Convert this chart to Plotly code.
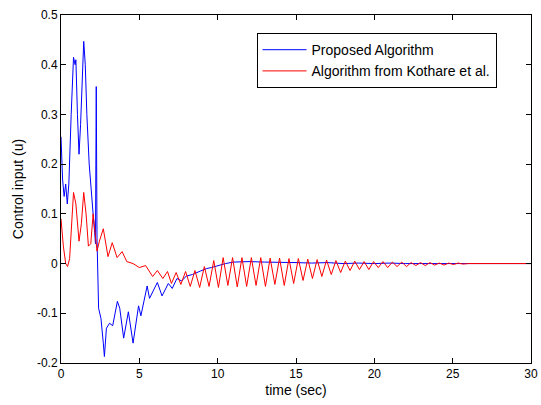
import plotly.graph_objects as go

# Proposed Algorithm (blue)
blue_t = [0.0, 0.1, 0.2, 0.3, 0.4, 0.5, 0.65, 0.8, 0.9, 0.95, 1.05, 1.15, 1.25, 1.35, 1.45,
          1.55, 1.65, 1.8, 1.95, 2.05, 2.15, 2.2, 2.25, 2.3, 2.4, 2.55, 2.7, 2.77, 2.9, 3.1,
          3.3, 3.6, 3.75, 4.0, 4.3, 4.6, 4.95, 5.1, 5.5, 5.65, 6.15, 6.45, 6.85, 7.1, 7.4,
          7.7, 8.0, 8.4, 8.9, 9.3, 9.6, 10.0, 10.5, 11.0, 12.0, 13.0, 14.0, 15.0, 16.0, 17.0,
          18.0, 19.0, 20.0, 21.0, 22.0, 23.0, 24.0, 25.0, 26.0, 27.0, 30.0]
blue_u = [0.255, 0.17, 0.135, 0.16, 0.12, 0.16, 0.30, 0.415, 0.40, 0.41, 0.30, 0.22, 0.28, 0.38, 0.447,
          0.40, 0.30, 0.20, 0.13, 0.10, 0.062, 0.04, 0.356, 0.05, -0.09, -0.11, -0.16, -0.187, -0.13, -0.12,
          -0.125, -0.076, -0.09, -0.15, -0.097, -0.16, -0.085, -0.105, -0.045, -0.07, -0.038, -0.065, -0.04, -0.05, -0.03,
          -0.035, -0.025, -0.022, -0.015, -0.01, -0.008, -0.004, 0.0, 0.003, 0.004, 0.003, 0.003, 0.002, 0.001, 0.002,
          0.0, 0.001, 0.0, 0.001, 0.0, 0.0, 0.001, 0.0, 0.0, 0.0, 0.0]

# Algorithm from Kothare et al. (red)
red_t = [0.0, 0.15, 0.3, 0.42, 0.55, 0.8, 0.95, 1.15, 1.3, 1.45, 1.6, 1.75, 1.9, 2.05, 2.2,
         2.3, 2.45, 2.7, 3.0, 3.27, 3.58, 3.9, 4.2, 4.6, 5.0, 5.4, 5.85, 6.15, 6.5, 6.8,
         7.05, 7.35, 7.65, 7.95, 8.25, 8.55, 8.85, 9.15, 9.45, 9.75, 10.05, 10.35, 10.65, 10.95, 11.25,
         11.55, 11.85, 12.15, 12.45, 12.75, 13.05, 13.35, 13.65, 13.95, 14.25, 14.55, 14.85, 15.15, 15.45, 15.75,
         16.05, 16.35, 16.65, 16.95, 17.25, 17.55, 17.85, 18.15, 18.45, 18.75, 19.05, 19.35, 19.65, 19.95, 20.25,
         20.55, 20.85, 21.15, 21.45, 21.75, 22.05, 22.35, 22.65, 22.95, 23.25, 23.55, 23.85, 24.15, 24.45, 24.75,
         25.05, 25.35, 25.65, 26.0, 30.0]
red_u = [0.09, 0.035, 0.0, -0.006, 0.01, 0.143, 0.12, 0.045, 0.08, 0.143, 0.10, 0.035, 0.04, 0.10, 0.055,
         0.025, 0.045, 0.07, 0.014, 0.042, 0.012, 0.024, 0.004, 0.0, -0.008, -0.004, -0.026, -0.014, -0.03, -0.016,
         -0.04, -0.018, -0.042, -0.016, -0.046, -0.014, -0.048, -0.006, -0.046, 0.006, -0.048, 0.012, -0.044, 0.012, -0.047,
         0.012, -0.046, 0.012, -0.044, 0.012, -0.046, 0.011, -0.042, 0.011, -0.044, 0.010, -0.040, 0.010, -0.034, 0.009,
         -0.030, 0.008, -0.026, 0.007, -0.022, 0.006, -0.018, 0.005, -0.014, 0.005, -0.012, 0.004, -0.012, 0.004, -0.008,
         0.004, -0.008, 0.003, -0.006, 0.003, -0.006, 0.002, -0.004, 0.002, -0.004, 0.002, -0.003, 0.001, -0.003, 0.001,
         -0.002, 0.001, -0.001, 0.0, 0.0]

x_ticks = [0, 5, 10, 15, 20, 25, 30]
y_ticks = [-0.2, -0.1, 0, 0.1, 0.2, 0.3, 0.4, 0.5]
y_ticklabels = ["-0.2", "-0.1", "0", "0.1", "0.2", "0.3", "0.4", "0.5"]

FONT = "Liberation Sans, Arial, sans-serif"

fig = go.Figure()
fig.add_trace(go.Scatter(x=blue_t, y=blue_u, mode="lines", name="Proposed Algorithm",
                         line=dict(color="#0000FF", width=1)))
fig.add_trace(go.Scatter(x=red_t, y=red_u, mode="lines", name="Algorithm from Kothare et al.",
                         line=dict(color="#FF0000", width=1)))

axis_common = dict(showgrid=False, zeroline=False, showline=True, linecolor="black", linewidth=1,
                   mirror="allticks", ticks="inside", ticklen=5, tickcolor="black",
                   ticklabeloverflow="allow",
                   tickfont=dict(family=FONT, size=12, color="black"))

fig.update_layout(
    width=541, height=405,
    margin=dict(l=61, r=3, t=15, b=42),
    paper_bgcolor="white", plot_bgcolor="white",
    font=dict(family=FONT, size=12, color="black"),
    showlegend=True,
    legend=dict(x=0.416, y=0.948, xanchor="left", yanchor="top",
                bordercolor="black", borderwidth=1, bgcolor="white",
                font=dict(family=FONT, size=14), tracegroupgap=0, itemwidth=44),
    xaxis=dict(range=[0, 30], tickvals=x_ticks,
               title=dict(text="time (sec)", standoff=4, font=dict(family=FONT, size=14)), **axis_common),
    yaxis=dict(range=[-0.2, 0.5], tickvals=y_ticks, ticktext=y_ticklabels,
               title=dict(text="Control input (u)", standoff=10, font=dict(family=FONT, size=14)), **axis_common),
)

fig.write_html("out.html")
